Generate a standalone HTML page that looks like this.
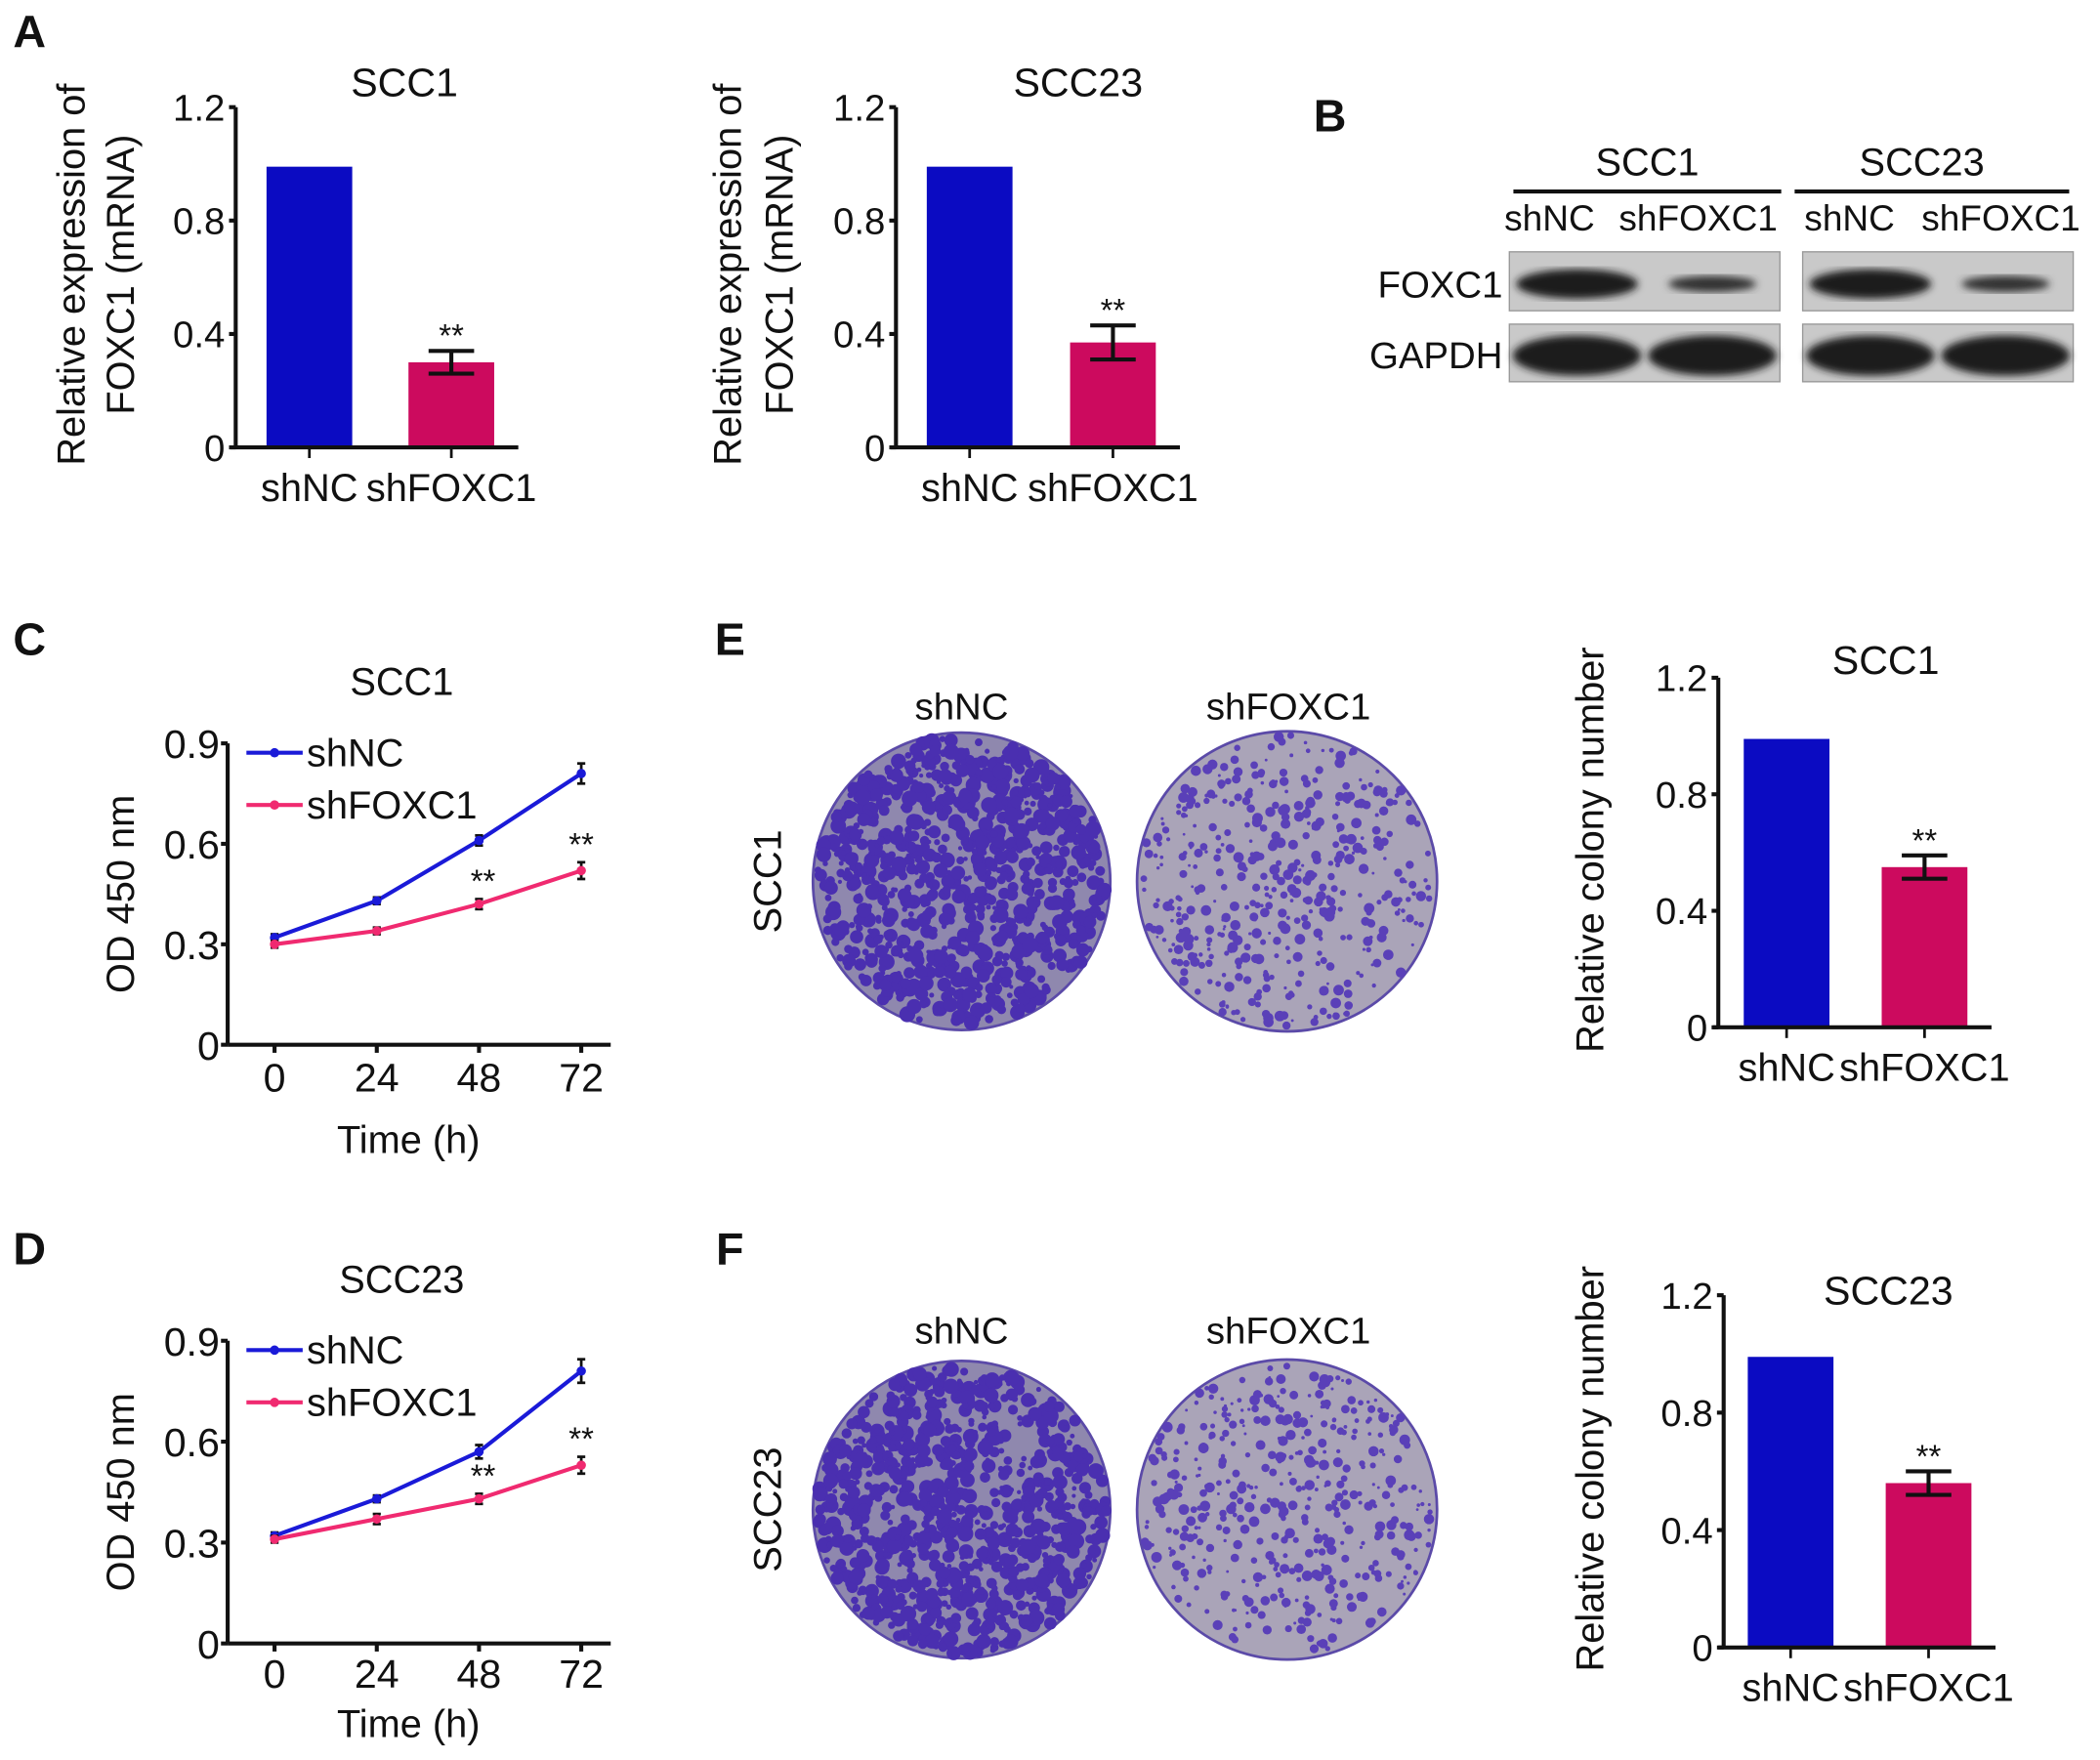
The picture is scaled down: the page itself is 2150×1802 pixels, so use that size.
<!DOCTYPE html>
<html><head><meta charset="utf-8">
<style>
html,body{margin:0;padding:0;background:#fff;}
svg{display:block;}
text{font-family:"Liberation Sans",Arial,sans-serif;fill:#111;}
</style></head>
<body>
<svg id="fig" width="2150" height="1802" viewBox="0 0 1568 1314" preserveAspectRatio="none" xmlns="http://www.w3.org/2000/svg">
<g id="root"></g>
</svg>
<script>
// ---- data ----
const barCats = ["shNC","shFOXC1"];
const barA1 = [0.99, 0.30];
const errA1 = [0, 0.04];
const barA2 = [0.99, 0.37];
const errA2 = [0, 0.06];
const barE = [0.99, 0.55];
const errE = [0, 0.04];
const barF = [0.99, 0.56];
const errF = [0, 0.04];
const barTicks = [0, 0.4, 0.8, 1.2];
const barTickLabels = ["0","0.4","0.8","1.2"];
const timePts = [0, 24, 48, 72];
const timeLabels = ["0","24","48","72"];
const odTicks = [0, 0.3, 0.6, 0.9];
const odTickLabels = ["0","0.3","0.6","0.9"];
const cNC = [0.32, 0.43, 0.61, 0.81];
const cNCerr = [0.01, 0.01, 0.015, 0.03];
const cKD = [0.30, 0.34, 0.42, 0.52];
const cKDerr = [0.01, 0.01, 0.015, 0.025];
const dNC = [0.32, 0.43, 0.57, 0.81];
const dNCerr = [0.01, 0.01, 0.02, 0.035];
const dKD = [0.31, 0.37, 0.43, 0.53];
const dKDerr = [0.01, 0.015, 0.015, 0.025];

const NS="http://www.w3.org/2000/svg";
const root=document.getElementById('root');
function el(tag,attrs,parent){const e=document.createElementNS(NS,tag);for(const k in attrs)e.setAttribute(k,attrs[k]);(parent||root).appendChild(e);return e;}
function txt(s,x,y,size,anchor,parent,rot,weight){const t=el('text',{x:x,y:y,'font-size':size,'text-anchor':anchor||'middle'},parent);if(rot)t.setAttribute('transform','rotate(-90 '+x+' '+y+')');if(weight)t.setAttribute('font-weight',weight);t.textContent=s;return t;}

function barChart(name,ax,top,zero,bars,vals,errs,title,tx,ty,ytitle,yx){
  const g=el('g',{});
  
  
  const y=v=>zero-(v/1.2)*(zero-top);
  const colors=['#0b0bc2','#cc0a5e'];
  vals.forEach((v,i)=>{
    const r=el('rect',{x:bars[i],y:y(v),width:64,height:zero-y(v),fill:colors[i]},g);
    
    
    const cx=bars[i]+32;
    if(errs[i]>0){
      const eg=el('g',{stroke:'#111','stroke-width':3},g);
      
      
      el('line',{x1:cx,x2:cx,y1:y(v+errs[i]),y2:y(v-errs[i])},eg);
      el('line',{x1:cx-17,x2:cx+17,y1:y(v+errs[i]),y2:y(v+errs[i])},eg);
      el('line',{x1:cx-17,x2:cx+17,y1:y(v-errs[i]),y2:y(v-errs[i])},eg);
      const s=txt('**',cx,y(v+errs[i])-3,24,'middle',g);
      
      
    }
    const l=txt(barCats[i],cx,zero+40,29,'middle',g);
    
    
    el('line',{x1:cx,x2:cx,y1:zero,y2:zero+8,stroke:'#111','stroke-width':2},g);
  });
  const axg=el('g',{stroke:'#111','stroke-width':3},g);
  
  
  el('line',{x1:ax,x2:ax,y1:top,y2:zero},axg);
  el('line',{x1:ax-4,x2:bars[1]+82,y1:zero,y2:zero},axg);
  barTicks.forEach((t,i)=>{
    el('line',{x1:ax-5,x2:ax,y1:y(t),y2:y(t)},axg);
    const l=txt(barTickLabels[i],ax-8,y(t)+10,28,'end',g);
    
    
  });
  const tt=txt(title,tx,ty,30,'middle',g);
  
  
  ytitle.forEach((s,i)=>{
    const t=txt(s,yx[i],(top+zero)/2-2,29,'middle',g,true);
    
    
  });
}

barChart('bar-chart-a-scc1',176,80,334,[199,305],barA1,errA1,'SCC1',302,72,['Relative expression of','FOXC1 (mRNA)'],[63,100]);
barChart('bar-chart-a-scc23',669,80,334,[692,799],barA2,errA2,'SCC23',805,72,['Relative expression of','FOXC1 (mRNA)'],[553,592]);
barChart('bar-chart-e-scc1',1283,506,767,[1302,1405],barE,errE,'SCC1',1408,503,['Relative colony number'],[1197]);
barChart('bar-chart-f-scc23',1287,967,1230,[1305,1408],barF,errF,'SCC23',1410,974,['Relative colony number'],[1197]);

function lineChart(name,ax,top,zero,nc,ncE,kd,kdE,title,legY,tickY,timeY){
  const g=el('g',{});
  
  
  const x0=205,x1=434;
  const x=t=>x0+(t/72)*(x1-x0);
  const y=v=>zero-(v/0.9)*(zero-top);
  const axg=el('g',{stroke:'#111','stroke-width':3},g);
  
  
  el('line',{x1:ax,x2:ax,y1:top,y2:zero},axg);
  el('line',{x1:ax,x2:456,y1:zero,y2:zero},axg);
  odTicks.forEach((t,i)=>{
    el('line',{x1:ax-5,x2:ax,y1:y(t),y2:y(t)},axg);
    const l=txt(odTickLabels[i],ax-6,y(t)+11,30,'end',g);
    
    
  });
  timePts.forEach((t,i)=>{
    el('line',{x1:x(t),x2:x(t),y1:zero,y2:zero+6},axg);
    const l=txt(timeLabels[i],x(t),tickY,30,'middle',g);
    
    
  });
  const xt=txt('Time (h)',305,timeY,29,'middle',g);
  
  
  const yt=txt('OD 450 nm',100,(top+zero)/2,29,'middle',g,true);
  
  
  const tt=txt(title,300,top-36,29,'middle',g);
  
  
  [[nc,ncE,'#1a1ad8','shNC'],[kd,kdE,'#f02a70','shFOXC1']].forEach(([vals,errs,c,lab],si)=>{
    const sg=el('g',{},g);
    
    
    el('polyline',{points:vals.map((v,i)=>x(timePts[i])+','+y(v)).join(' '),fill:'none',stroke:c,'stroke-width':3},sg);
    vals.forEach((v,i)=>{
      const cx=x(timePts[i]);
      el('line',{x1:cx,x2:cx,y1:y(v+errs[i]),y2:y(v-errs[i]),stroke:'#111','stroke-width':2},sg);
      el('line',{x1:cx-3,x2:cx+3,y1:y(v+errs[i]),y2:y(v+errs[i]),stroke:'#111','stroke-width':2},sg);
      el('line',{x1:cx-3,x2:cx+3,y1:y(v-errs[i]),y2:y(v-errs[i]),stroke:'#111','stroke-width':2},sg);
      const p=el('circle',{cx:cx,cy:y(v),r:3.5,fill:c},sg);
      
      
      if(si===1&&i>=2){
        const s=txt('**',cx+(i===3?0:3),y(v+errs[i])-5,24,'middle',sg);
        
        
      }
    });
    const ly=legY+si*39;
    const lg=el('g',{},g);
    
    
    el('line',{x1:184,x2:226,y1:ly,y2:ly,stroke:c,'stroke-width':3},lg);
    el('circle',{cx:205,cy:ly,r:3.5,fill:c},lg);
    txt(lab,229,ly+10,29,'start',lg);
  });
}
lineChart('line-chart-c-scc1',170,555,780,cNC,cNCerr,cKD,cKDerr,'SCC1',562,815,861);
lineChart('line-chart-d-scc23',170,1001,1227,dNC,dNCerr,dKD,dKDerr,'SCC23',1008,1260,1297);

// panel letters
[['A',22,35],['B',993,98],['C',22,489],['D',22,944],['E',545,489],['F',545,944]].forEach(([s,x,y])=>{
  const t=txt(s,x,y,34,'middle',null,false,'bold');
  
  
});

// western blot B
(function(){
  const g=el('g',{});
  
  
  [['SCC1',1230,1130,1330],['SCC23',1435,1340,1545]].forEach(([s,cx,a,b])=>{
    txt(s,cx,131,29,'middle',g);
    el('line',{x1:a,x2:b,y1:143,y2:143,stroke:'#111','stroke-width':3},g);
  });
  [['shNC',1157],['shFOXC1',1268],['shNC',1381],['shFOXC1',1494]].forEach(([s,x])=>txt(s,x,172,27,'middle',g));
  const defs=el('defs',{},g);
  const f=el('filter',{id:'blur'},defs);el('feGaussianBlur',{stdDeviation:3},f);
  [[188,232,'FOXC1'],[242,285,'GAPDH']].forEach(([y1,y2,lab],ri)=>{
    const l=txt(lab,1122,y2-10,28,'end',g);
    
    
    [[1127,1329],[1346,1548]].forEach(([a,b])=>{
      el('rect',{x:a,y:y1,width:b-a,height:y2-y1,fill:'#c9c9c9',stroke:'#999','stroke-width':1},g);
      const cy=(y1+y2)/2+2;
      const q=(b-a)/4;
      if(ri===0){
        el('ellipse',{cx:a+q,cy:cy,rx:q*0.9,ry:11,fill:'#1c1c1c',filter:'url(#blur)'},g);
        el('ellipse',{cx:a+3*q,cy:cy,rx:q*0.65,ry:6,fill:'#333',filter:'url(#blur)'},g);
      }else{
        el('ellipse',{cx:a+q,cy:cy,rx:q*0.95,ry:15,fill:'#1a1a1a',filter:'url(#blur)'},g);
        el('ellipse',{cx:a+3*q,cy:cy,rx:q*0.95,ry:15,fill:'#1a1a1a',filter:'url(#blur)'},g);
      }
    });
  });
})();

// colony dishes (texture uses seeded generator; not chart data)
let seed=7;function rnd(){seed=(seed*16807)%2147483647;return seed/2147483647;}
function dish(name,cx,cy,r,dense){
  const g=el('g',{});
  
  
  el('circle',{cx:cx,cy:cy,r:r,fill:dense?'#8f88ae':'#aaa4b8',stroke:'#5b4aa8','stroke-width':2},g);
  const n=dense?900:450;
  for(let i=0;i<n;i++){
    const a=rnd()*Math.PI*2,d=Math.sqrt(rnd())*(r-3);
    const rr=dense?(1.5+rnd()*4.5):(1+rnd()*3);
    el('circle',{cx:cx+Math.cos(a)*d,cy:cy+Math.sin(a)*d,r:rr,fill:dense?'#4a2fb0':'#5a40b8'},g);
  }
}
[['E',658,537,'SCC1'],['F',1127,1003,'SCC23']].forEach(([p,cy,ly,lab])=>{
  txt('shNC',718,ly,28,'middle');
  txt('shFOXC1',962,ly,28,'middle');
  const t=txt(lab,583,cy,29,'middle',null,true);
  
  
  dish('dish-'+p.toLowerCase()+'-shnc',718,cy,111,true);
  dish('dish-'+p.toLowerCase()+'-shfoxc1',961,cy,112,false);
});
</script>
</body></html>
